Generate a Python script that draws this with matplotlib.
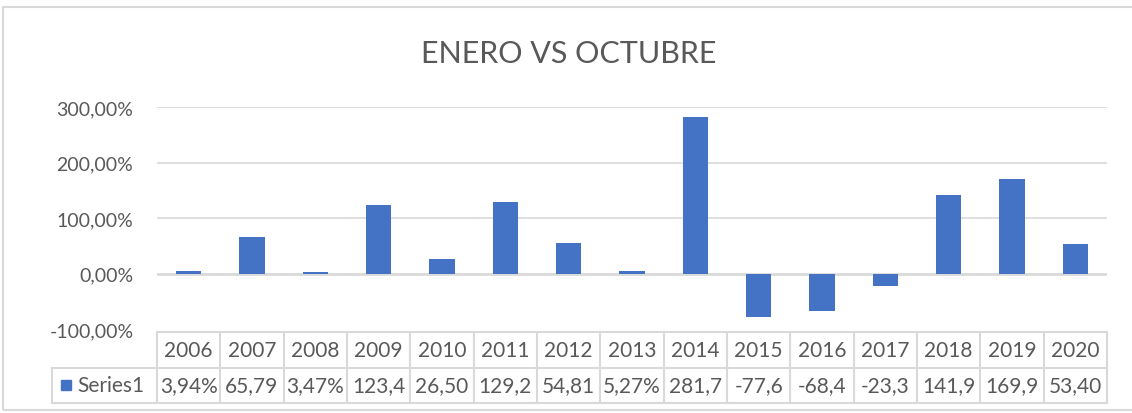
import matplotlib
matplotlib.use("Agg")
import matplotlib.pyplot as plt
import matplotlib.patches as patches
from matplotlib.transforms import blended_transform_factory

# percent change, january vs october
years = ['2006', '2007', '2008', '2009', '2010', '2011', '2012', '2013',
         '2014', '2015', '2016', '2017', '2018', '2019', '2020']
values = [3.94, 65.79, 3.47, 123.4, 26.50, 129.2, 54.81, 5.27,
          281.7, -77.6, -68.4, -23.3, 141.9, 169.9, 53.40]
yticks = [-100, 0, 100, 200, 300]
series_name = 'Series1'

blue = '#4472C4'
grey_txt = '#595959'
grid_col = '#D9D9D9'
plt.rcParams['font.family'] = ['Lato', 'DejaVu Sans']

W, H = 1132, 414
fig = plt.figure(figsize=(W / 100, H / 100), dpi=100)


def fx(px):
    return px / W


def fy(py):
    # pixel rows counted from the top
    return (H - py) / H


# chart frame
fig.patches.append(patches.Rectangle((fx(3), fy(411)), fx(1140), fy(8) - fy(411),
                                     transform=fig.transFigure, fill=False,
                                     edgecolor=grid_col, lw=1.5))

fig.text(0.502, fy(54), 'ENERO VS OCTUBRE', ha='center', va='center',
         fontsize=22, color=grey_txt)

ax = fig.add_axes([fx(157), fy(330), fx(1107) - fx(157), fy(108) - fy(330)])
x = list(range(len(years)))
ax.bar(x, values, width=0.4, color=blue, zorder=3)
ax.set_xlim(-0.5, len(years) - 0.5)
ax.set_ylim(-100, 300)
ax.set_yticks(yticks)
ax.set_yticklabels([f"{v:.2f}%".replace('.', ',') for v in yticks],
                   fontsize=14, color=grey_txt)
ax.tick_params(axis='y', length=0, pad=17)
ax.tick_params(axis='x', bottom=False, labelbottom=False)
for v in yticks:
    if v == -100:
        continue
    ax.axhline(v, color=grid_col, lw=1.2 if v else 2, zorder=1)
for s in ax.spines.values():
    s.set_visible(False)

# data table under the plot
tr = blended_transform_factory(ax.transData, fig.transFigure)
y_top, y_mid, y_bot = fy(333), fy(369), fy(404)
x_left = -0.5 + (52 - 157) / ((1107 - 157) / len(years))
x_end = len(years) - 0.5
lkw = dict(color=grid_col, lw=1.5, transform=tr, clip_on=False)
ax.plot([-0.5, x_end], [y_top, y_top], **lkw)
ax.plot([x_left, x_end], [y_mid, y_mid], **lkw)
ax.plot([x_left, x_end], [y_bot, y_bot], **lkw)
ax.plot([x_left, x_left], [y_mid, y_bot], **lkw)
for i in range(len(years) + 1):
    ax.plot([i - 0.5, i - 0.5], [y_top, y_bot], **lkw)

for i, (yr, v) in enumerate(zip(years, values)):
    ax.text(i, (y_top + y_mid) / 2, yr, transform=tr, ha='center', va='center',
            fontsize=15, color=grey_txt, clip_on=False)
    label = f"{v:.2f}%".replace('.', ',')[:5]
    ax.text(i, (y_mid + y_bot) / 2, label, transform=tr, ha='center', va='center',
            fontsize=15, color=grey_txt, clip_on=False)

fig.patches.append(patches.Rectangle((fx(61), fy(391)), fx(10), fy(381) - fy(391),
                                     transform=fig.transFigure, color=blue))
fig.text(fx(77), (y_mid + y_bot) / 2, series_name, ha='left', va='center',
         fontsize=15, color=grey_txt)

fig.savefig('out.png', dpi=100)
